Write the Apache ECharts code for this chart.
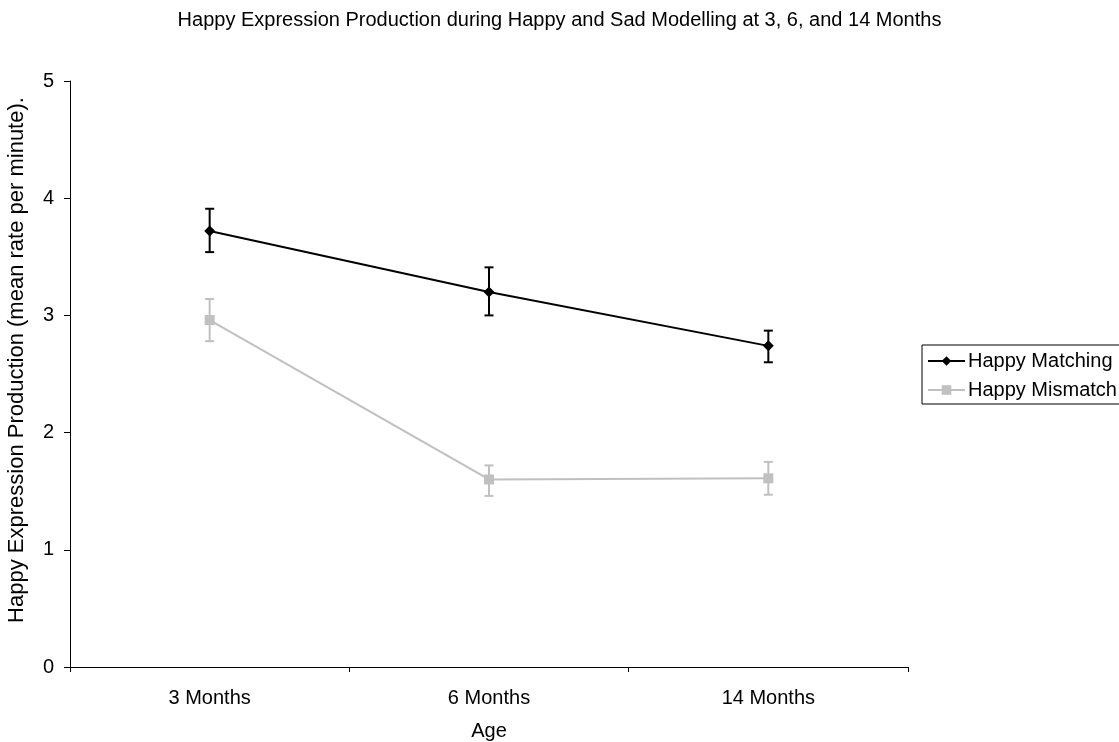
<!DOCTYPE html>
<html><head><meta charset="utf-8">
<script src="https://cdn.jsdelivr.net/npm/echarts@6/dist/echarts.min.js"></script>
<style>html,body{margin:0;padding:0;background:#fff}#c{width:1119px;height:742px}</style>
</head><body><div id="c"></div>
<script>
const categories = ['3 Months', '6 Months', '14 Months'];
const matching = [3.72, 3.20, 2.74];
const matchingLow = [3.54, 3.00, 2.60];
const matchingHigh = [3.91, 3.41, 2.87];
const mismatch = [2.96, 1.60, 1.61];
const mismatchLow = [2.78, 1.46, 1.47];
const mismatchHigh = [3.14, 1.72, 1.75];

const font = '"Liberation Sans", Arial, sans-serif';
function errData(lo, hi){ return lo.map((v,i)=>[i, v, hi[i]]); }
function errSeries(name, lo, hi, color){
  return {
    type: 'custom', name: name + ' err', z: 1, silent: true,
    data: errData(lo, hi),
    renderItem: function(params, api){
      const x = api.value(0);
      const p1 = api.coord([x, api.value(1)]);
      const p2 = api.coord([x, api.value(2)]);
      const hw = 4.5;
      const st = {stroke: color, lineWidth: 2};
      return {type:'group', children:[
        {type:'line', shape:{x1:p1[0],y1:p1[1],x2:p2[0],y2:p2[1]}, style:st},
        {type:'line', shape:{x1:p1[0]-hw,y1:p1[1],x2:p1[0]+hw,y2:p1[1]}, style:st},
        {type:'line', shape:{x1:p2[0]-hw,y1:p2[1],x2:p2[0]+hw,y2:p2[1]}, style:st}
      ]};
    }
  };
}
const chart = echarts.init(document.getElementById('c'));
chart.setOption({
  animation: false,
  backgroundColor: '#fff',
  textStyle: {fontFamily: font},
  title: {text: 'Happy Expression Production during Happy and Sad Modelling at 3, 6, and 14 Months',
    left: 'center', top: 5,
    textStyle: {fontFamily: font, fontSize: 20, fontWeight: 'normal', color: '#000'}},
  grid: {left: 70, right: 211, top: 81, bottom: 75, outerBoundsMode: 'none', containLabel: false},
  legend: {
    orient: 'vertical', left: 922, top: 345,
    borderColor: '#000', borderWidth: 1, padding: [5, 4, 3, 5], itemGap: 7,
    itemWidth: 37, itemHeight: 12,
    textStyle: {fontFamily: font, fontSize: 20, lineHeight: 22, color: '#000', padding: [0, 0, 0, -2]},
    data: ['Happy Matching', 'Happy Mismatch']
  },
  xAxis: {
    type: 'category', data: categories, boundaryGap: true,
    name: 'Age', nameLocation: 'middle', nameGap: 54,
    nameTextStyle: {fontFamily: font, fontSize: 20, color: '#000'},
    axisLine: {lineStyle: {color: '#000', width: 1}},
    axisTick: {show: true, length: 5, inside: false, lineStyle: {color: '#000'}},
    axisLabel: {fontFamily: font, fontSize: 20, color: '#000', margin: 21},
    splitLine: {show: false}
  },
  yAxis: {
    type: 'value', min: 0, max: 5, interval: 1,
    name: 'Happy Expression Production (mean rate per minute).', nameLocation: 'middle', nameGap: 42,
    nameTextStyle: {fontFamily: font, fontSize: 22, color: '#000', padding: [0, 0, 0, 28]},
    axisLine: {show: true, lineStyle: {color: '#000', width: 1}},
    axisTick: {show: true, length: 6, lineStyle: {color: '#000'}},
    axisLabel: {fontFamily: font, fontSize: 20, color: '#000', margin: 16},
    splitLine: {show: false}
  },
  series: [
    errSeries('Happy Matching', matchingLow, matchingHigh, '#000'),
    errSeries('Happy Mismatch', mismatchLow, mismatchHigh, '#c0c0c0'),
    {name: 'Happy Matching', type: 'line', data: matching, z: 3,
     symbol: 'diamond', symbolSize: 11, itemStyle: {color: '#000'},
     lineStyle: {color: '#000', width: 2}},
    {name: 'Happy Mismatch', type: 'line', data: mismatch, z: 2,
     symbol: 'rect', symbolSize: 10, itemStyle: {color: '#c0c0c0'},
     lineStyle: {color: '#c0c0c0', width: 2}}
  ]
});
</script></body></html>
